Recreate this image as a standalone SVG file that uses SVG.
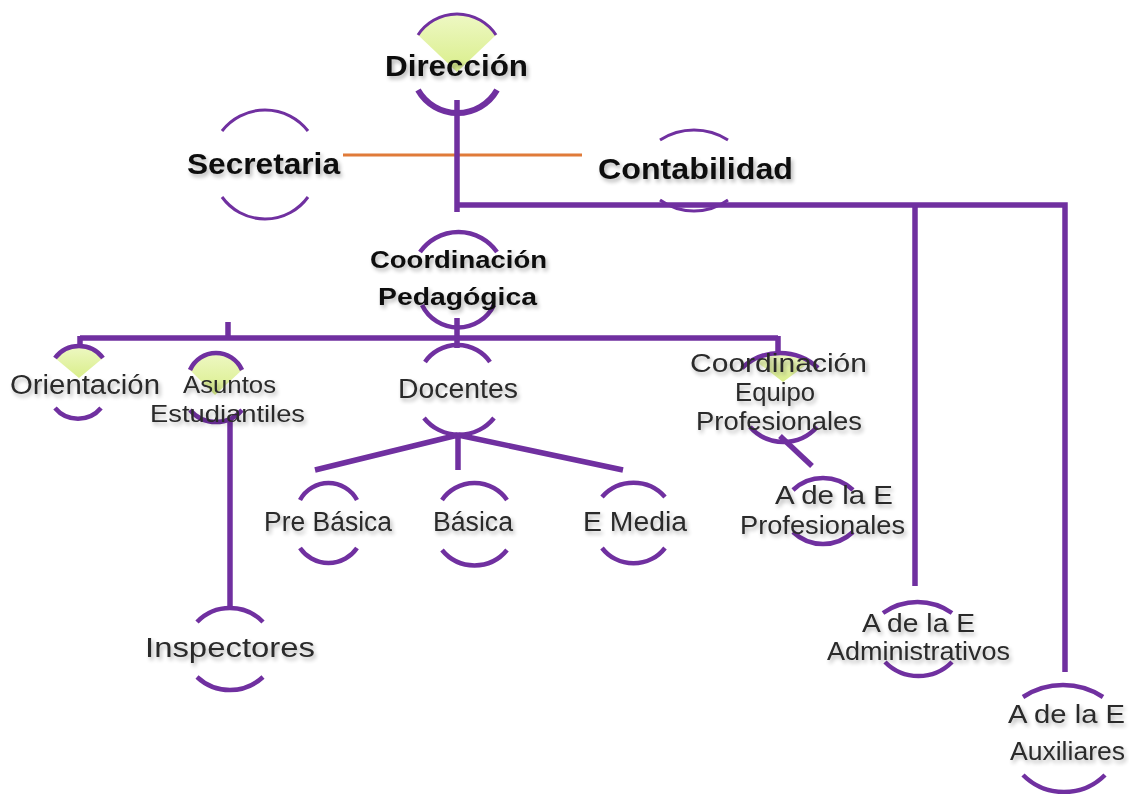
<svg xmlns="http://www.w3.org/2000/svg" width="1129" height="794" viewBox="0 0 1129 794">
<defs>
<filter id="sh" x="-10%" y="-30%" width="120%" height="160%">
<feGaussianBlur in="SourceAlpha" stdDeviation="2"/>
<feOffset dx="2" dy="3" result="b"/>
<feComponentTransfer><feFuncA type="linear" slope="0.3"/></feComponentTransfer>
<feMerge><feMergeNode/><feMergeNode in="SourceGraphic"/></feMerge>
</filter>
<linearGradient id="gr" x1="0" y1="0" x2="0" y2="1">
<stop offset="0" stop-color="#eef8c4"/>
<stop offset="1" stop-color="#d9ee8a"/>
</linearGradient>
</defs>
<style>
.arc{fill:none;stroke:#7030a0;stroke-width:4.5;stroke-linecap:butt}
.thin{stroke-width:3}
.thick{stroke-width:6}
.wedge{fill:url(#gr)}
.con{fill:none;stroke:#7030a0;stroke-width:5.5}
.org{fill:none;stroke:#e07b39;stroke-width:3}
.tb{font-family:"Liberation Sans",Arial,sans-serif;font-weight:bold;fill:#111;filter:url(#sh)}
.tr{font-family:"Liberation Sans",Arial,sans-serif;fill:#2a2a2a;font-size:27px;filter:url(#sh)}
.tm{font-size:25px}
.ts{font-size:24px}
</style>
<rect width="1129" height="794" fill="#fff"/>

<g id="connectors">
<path class="org" d="M343,155 H582"/>
<path class="con" d="M457,100 V212 M457,205 H1065 V672 M915,205 V586"/>
<path class="con" d="M457,318 V348 M80,338 H778 M80,336 V352 M778,336 V357 M228,322 V338"/>
<path class="con" d="M230,418 V610"/>
<path class="con" d="M458,435 L315,470 M458,435 V470 M458,435 L623,470"/>
<path class="con" d="M780,436 L812,466"/>
</g>

<g id="direccion">
<path class="wedge" d="M418,35 A46.7,46.7 0 0 1 496,35 L457,72 Z"/>
<path class="arc thin" d="M418,35 A46.7,46.7 0 0 1 496,35"/>
<path class="arc thick" d="M418,90 A45.4,45.4 0 0 0 497,90"/>
<text class="tb" x="385" y="76" font-size="30" textLength="143" lengthAdjust="spacingAndGlyphs">Dirección</text>
</g>

<g id="secretaria">
<path class="arc thin" d="M222,131 A54.5,54.5 0 0 1 308,131"/>
<path class="arc thin" d="M222,197 A53,53 0 0 0 308,197"/>
<text class="tb" x="187" y="174" font-size="30" textLength="153" lengthAdjust="spacingAndGlyphs">Secretaria</text>
</g>

<g id="contabilidad">
<path class="arc thin" d="M660,140 A62.8,62.8 0 0 1 728,140"/>
<path class="arc thin" d="M660,200 A58,58 0 0 0 728,200"/>
<text class="tb" x="598" y="179" font-size="30" textLength="195" lengthAdjust="spacingAndGlyphs">Contabilidad</text>
</g>

<g id="coord-pedagogica">
<path class="arc" d="M420,252 A47,47 0 0 1 497,252"/>
<path class="arc" d="M422,305 A40,40 0 0 0 494,305"/>
<text class="tb" x="370" y="268" font-size="24" textLength="177" lengthAdjust="spacingAndGlyphs">Coordinación</text>
<text class="tb" x="378" y="305" font-size="24" textLength="159" lengthAdjust="spacingAndGlyphs">Pedagógica</text>
</g>

<g id="orientacion">
<path class="wedge" d="M55,358 A30,30 0 0 1 103,358 L79,378 Z"/>
<path class="arc" d="M55,358 A30,30 0 0 1 103,358"/>
<path class="arc" d="M55,408 A30,30 0 0 0 101,408"/>
<text class="tr" x="10" y="394" textLength="150" lengthAdjust="spacingAndGlyphs">Orientación</text>
</g>

<g id="asuntos">
<path class="wedge" d="M190,370 A28.4,28.4 0 0 1 242,370 L215,395 Z"/>
<path class="arc" d="M190,370 A28.4,28.4 0 0 1 242,370"/>
<path class="arc" d="M190,410 A34,34 0 0 0 242,410"/>
<text class="tr ts" x="183" y="393" textLength="93" lengthAdjust="spacingAndGlyphs">Asuntos</text>
<text class="tr ts" x="150" y="422" textLength="155" lengthAdjust="spacingAndGlyphs">Estudiantiles</text>
</g>

<g id="docentes">
<path class="arc" d="M425,362 A39.6,39.6 0 0 1 490,362"/>
<path class="arc" d="M424,418 A45,45 0 0 0 494,418"/>
<text class="tr" x="398" y="398" textLength="120" lengthAdjust="spacingAndGlyphs">Docentes</text>
</g>

<g id="pre-basica">
<path class="arc" d="M300,500 A32.4,32.4 0 0 1 357,500"/>
<path class="arc" d="M300,548 A34.6,34.6 0 0 0 357,548"/>
<text class="tr" x="264" y="531" textLength="128" lengthAdjust="spacingAndGlyphs">Pre Básica</text>
</g>

<g id="basica">
<path class="arc" d="M442,500 A39.6,39.6 0 0 1 507,500"/>
<path class="arc" d="M442,550 A42,42 0 0 0 507,550"/>
<text class="tr" x="433" y="531" textLength="80" lengthAdjust="spacingAndGlyphs">Básica</text>
</g>

<g id="e-media">
<path class="arc" d="M602,497 A42,42 0 0 1 665,497"/>
<path class="arc" d="M602,548 A40,40 0 0 0 665,548"/>
<text class="tr" x="583" y="531" textLength="104" lengthAdjust="spacingAndGlyphs">E Media</text>
</g>

<g id="coord-equipo">
<path class="wedge" d="M757,362 A50,50 0 0 1 810,362 L783,382 Z"/>
<path class="arc" d="M742,368 A55.6,55.6 0 0 1 818,368"/>
<path class="arc" d="M750,427 A45,45 0 0 0 817,427"/>
<text class="tr tm" x="690" y="372" textLength="177" lengthAdjust="spacingAndGlyphs">Coordinación</text>
<text class="tr tm" x="735" y="401" textLength="80" lengthAdjust="spacingAndGlyphs">Equipo</text>
<text class="tr tm" x="696" y="430" textLength="166" lengthAdjust="spacingAndGlyphs">Profesionales</text>
</g>

<g id="ae-profesionales">
<path class="arc" d="M793,490 A43.5,43.5 0 0 1 853,490"/>
<path class="arc" d="M793,532 A43.5,43.5 0 0 0 853,532"/>
<text class="tr tm" x="775" y="504" textLength="118" lengthAdjust="spacingAndGlyphs">A de la E</text>
<text class="tr tm" x="740" y="534" textLength="165" lengthAdjust="spacingAndGlyphs">Profesionales</text>
</g>

<g id="inspectores">
<path class="arc" d="M197,622 A45.9,45.9 0 0 1 263,622"/>
<path class="arc" d="M197,677 A48.4,48.4 0 0 0 263,677"/>
<text class="tr" x="145" y="657" font-size="30" textLength="170" lengthAdjust="spacingAndGlyphs">Inspectores</text>
</g>

<g id="ae-administrativos">
<path class="arc" d="M883,613 A59.6,59.6 0 0 1 952,613"/>
<path class="arc" d="M885,662 A47,47 0 0 0 952,662"/>
<text class="tr tm" x="862" y="632" textLength="113" lengthAdjust="spacingAndGlyphs">A de la E</text>
<text class="tr tm" x="827" y="660" textLength="183" lengthAdjust="spacingAndGlyphs">Administrativos</text>
</g>

<g id="ae-auxiliares">
<path class="arc" d="M1023,697 A72.7,72.7 0 0 1 1103,697"/>
<path class="arc" d="M1023,775 A58,58 0 0 0 1105,775"/>
<text class="tr tm" x="1008" y="723" textLength="117" lengthAdjust="spacingAndGlyphs">A de la E</text>
<text class="tr tm" x="1010" y="760" textLength="115" lengthAdjust="spacingAndGlyphs">Auxiliares</text>
</g>
</svg>
